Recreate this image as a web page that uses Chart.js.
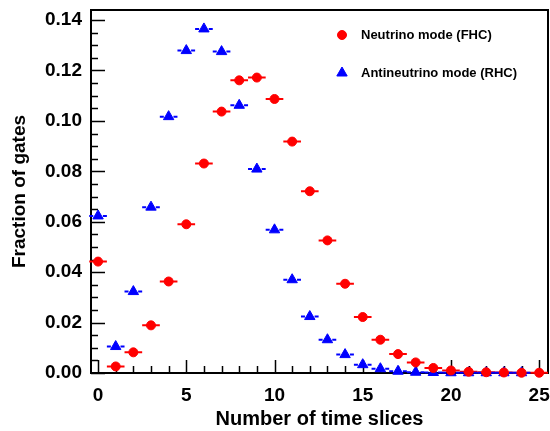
<!DOCTYPE html>
<html>
<head>
<meta charset="utf-8">
<script src="https://cdn.jsdelivr.net/npm/chart.js@4/dist/chart.umd.min.js"></script>
<style>
	html, body { margin: 0; padding: 0; background: #fff; }
</style>
</head>
<body>
<canvas id="chart" width="550" height="431"></canvas>
<script>
	// values
	const timeSlices = [0, 1, 2, 3, 4, 5, 6, 7, 8, 9, 10, 11, 12, 13, 14, 15, 16, 17, 18, 19, 20, 21, 22, 23, 24, 25];
	const fhcFraction = [0.0442, 0.0026, 0.0082, 0.0189, 0.0363, 0.0590, 0.0831, 0.1037, 0.1161, 0.1172, 0.1087, 0.0918, 0.0721, 0.0526, 0.0354, 0.0222, 0.0132, 0.0075, 0.0042, 0.0020, 0.0010, 0.0005, 0.0003, 0.0002, 0.0001, 0.0001];
	const rhcFraction = [0.0623, 0.0105, 0.0323, 0.0658, 0.1017, 0.1279, 0.1365, 0.1275, 0.1062, 0.0809, 0.0568, 0.0370, 0.0224, 0.0132, 0.0073, 0.0033, 0.0017, 0.0007, 0.0003, 0.0002, 0.0001, 0.0001, 0.0001, 0.0001, 0.0001];
	const seriesLabels = ["Neutrino mode (FHC)", "Antineutrino mode (RHC)"];
	const yTickValues = [0, 0.02, 0.04, 0.06, 0.08, 0.10, 0.12, 0.14];
	const xTickValues = [0, 5, 10, 15, 20, 25];

	const FONT = "'Liberation Sans', Arial, sans-serif";
	const RED = "#ff0000";
	const BLUE = "#0000ff";

	function toPoints(values) {
		return values.map((v, i) => ({ x: timeSlices[i], y: v }));
	}

	const framePlugin = {
		id: "frame",
		beforeDatasetsDraw(chart) {
			const { ctx, chartArea: a, scales: { x, y } } = chart;
			ctx.save();
			ctx.strokeStyle = "#000";

			// inward ticks, major + minor
			ctx.lineWidth = 1.5;
			ctx.beginPath();
			for (let i = 0; i <= 28; i++) {
				const py = Math.round(y.getPixelForValue(i * 0.005)) + 0.5;
				const len = i % 4 === 0 ? 14 : 7;
				ctx.moveTo(a.left, py);
				ctx.lineTo(a.left + len, py);
			}
			for (let v = 0; v <= 25; v++) {
				const px = Math.round(x.getPixelForValue(v)) + 0.5;
				const len = v % 5 === 0 ? 13 : 7;
				ctx.moveTo(px, a.bottom);
				ctx.lineTo(px, a.bottom - len);
			}
			ctx.stroke();

			ctx.lineWidth = 2;
			ctx.strokeRect(a.left, a.top, a.right - a.left, a.bottom - a.top);

			// horizontal error bars (bin width)
			chart.data.datasets.forEach((ds) => {
				ctx.strokeStyle = ds.borderColor;
				ctx.lineWidth = 2;
				ds.data.forEach((p) => {
					const cx = x.getPixelForValue(p.x);
					const cy = y.getPixelForValue(p.y);
					const l = x.getPixelForValue(p.x - 0.5);
					const r = x.getPixelForValue(p.x + 0.5);
					ctx.setLineDash(ds.dashed ? [4, 3] : []);
					ctx.beginPath();
					ctx.moveTo(l, cy);
					ctx.lineTo(cx, cy);
					ctx.moveTo(r, cy);
					ctx.lineTo(cx, cy);
					ctx.stroke();
				});
			});
			ctx.restore();
		},
		afterDatasetsDraw(chart) {
			const { ctx } = chart;
			ctx.save();
			ctx.font = "bold 13px " + FONT;
			ctx.textBaseline = "middle";
			const rows = [35, 73];
			chart.data.datasets.forEach((ds, i) => {
				ctx.fillStyle = ds.backgroundColor;
				ctx.strokeStyle = ds.borderColor;
				Chart.helpers.drawPoint(ctx, { pointStyle: ds.pointStyle, radius: ds.pointRadius, borderWidth: 1, rotation: 0 }, 342, rows[i]);
				ctx.fillStyle = "#000";
				ctx.fillText(ds.label, 361, rows[i]);
			});
			ctx.restore();
		}
	};

	new Chart(document.getElementById("chart"), {
		type: "scatter",
		data: {
			datasets: [
				{
					label: seriesLabels[0],
					data: toPoints(fhcFraction),
					pointStyle: "circle",
					pointRadius: 4.5,
					borderWidth: 1,
					backgroundColor: RED,
					borderColor: RED,
					clip: false
				},
				{
					label: seriesLabels[1],
					data: toPoints(rhcFraction),
					pointStyle: "triangle",
					pointRadius: 6,
					borderWidth: 1,
					backgroundColor: BLUE,
					borderColor: BLUE,
					dashed: true,
					clip: false
				}
			]
		},
		options: {
			responsive: false,
			animation: false,
			layout: { autoPadding: false, padding: { left: 0, right: 2, top: 10, bottom: 0 } },
			plugins: { legend: { display: false }, tooltip: { enabled: false } },
			scales: {
				x: {
					type: "linear",
					min: -0.4,
					max: 25.5,
					afterFit: (scale) => {
						scale.height = 58;
						scale.paddingLeft = 0;
						scale.paddingRight = 0;
					},
					afterBuildTicks: (scale) => { scale.ticks = xTickValues.map((v) => ({ value: v })); },
					grid: { display: false, drawTicks: false },
					border: { display: false },
					ticks: {
						padding: 11,
						color: "#000",
						font: { family: FONT, size: 19, weight: "bold" },
						callback: (v) => String(v)
					},
					title: {
						display: true,
						text: "Number of time slices",
						color: "#000",
						padding: { top: 0, bottom: 0 },
						font: { family: FONT, size: 20, weight: "bold" }
					}
				},
				y: {
					min: 0,
					max: 0.144,
					afterFit: (scale) => {
						scale.width = 91;
						scale.paddingTop = 0;
						scale.paddingBottom = 0;
					},
					afterBuildTicks: (scale) => { scale.ticks = yTickValues.map((v) => ({ value: v })); },
					grid: { display: false, drawTicks: false },
					border: { display: false },
					ticks: {
						padding: 9,
						color: "#000",
						font: { family: FONT, size: 19, weight: "bold" },
						callback: (v) => v.toFixed(2)
					},
					title: {
						display: true,
						text: "Fraction of gates",
						color: "#000",
						padding: { top: 8, bottom: 0 },
						font: { family: FONT, size: 19, weight: "bold" }
					}
				}
			}
		},
		plugins: [framePlugin]
	});
</script>
</body>
</html>
